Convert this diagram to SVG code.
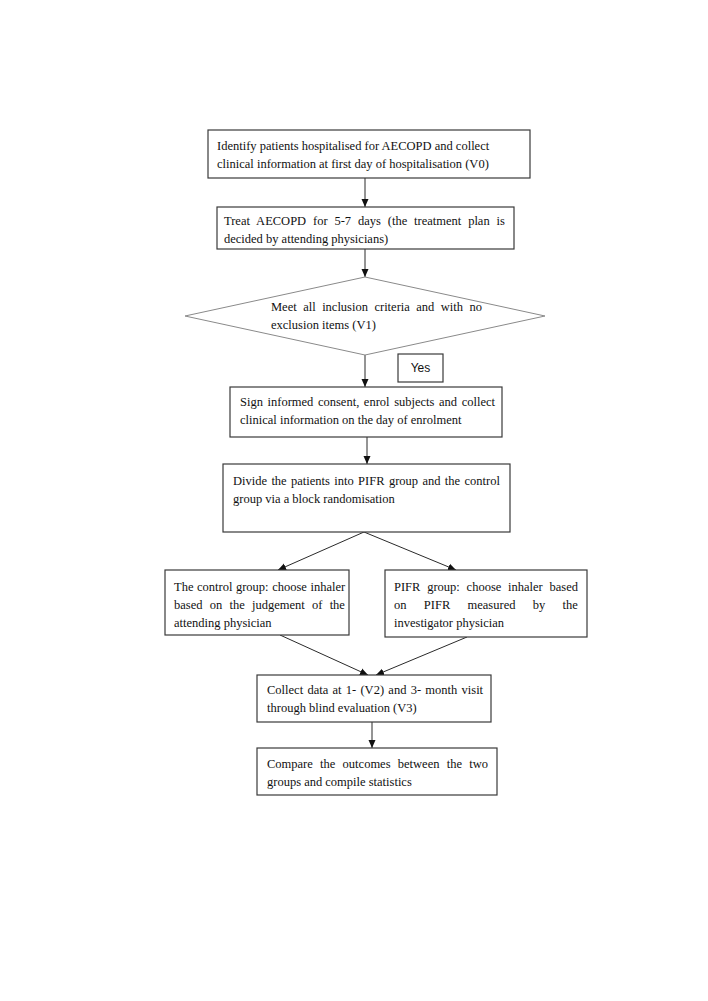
<svg xmlns="http://www.w3.org/2000/svg" width="708" height="1001" viewBox="0 0 708 1001">
<style>
.box{fill:#fff;stroke:#3a3a3a;stroke-width:1.2}
.dia{fill:#fff;stroke:#8a8a8a;stroke-width:1}
.t{font-family:"Liberation Serif","Times New Roman",serif;font-size:12.5px;fill:#111}
.s{font-family:"Liberation Sans",Arial,sans-serif;font-size:12px;fill:#111}
.c{stroke:#2a2a2a;stroke-width:1;fill:none;marker-end:url(#ah)}
</style>
<defs>
<marker id="ah" markerUnits="userSpaceOnUse" markerWidth="8" markerHeight="8" refX="8" refY="4" orient="auto">
<path d="M0,0.5 L8,4 L0,7.5 z" fill="#111"/>
</marker>
</defs>
<rect width="708" height="1001" fill="#fff"/>
<g id="connectors">
<line class="c" x1="365" y1="178" x2="365" y2="207"/>
<line class="c" x1="365" y1="249" x2="365" y2="277"/>
<line class="c" x1="365" y1="355" x2="365" y2="387"/>
<line class="c" x1="367" y1="437" x2="367" y2="464"/>
<line class="c" x1="364" y1="532" x2="278" y2="570"/>
<line class="c" x1="364" y1="532" x2="456" y2="570"/>
<line class="c" x1="280" y1="635" x2="368" y2="675"/>
<line class="c" x1="467" y1="637" x2="376" y2="675"/>
<line class="c" x1="372" y1="722" x2="372" y2="748"/>
</g>
<g id="n1">
<rect class="box" x="208" y="130" width="322" height="48"/>
<text class="t" x="217" y="150">Identify patients hospitalised for AECOPD and collect</text>
<text class="t" x="217" y="168">clinical information at first day of hospitalisation (V0)</text>
</g>
<g id="n2">
<rect class="box" x="217" y="207" width="297" height="42"/>
<text class="t" x="224" y="225" word-spacing="3.75">Treat AECOPD for 5-7 days (the treatment plan is</text>
<text class="t" x="224" y="243">decided by attending physicians)</text>
</g>
<g id="n3">
<polygon class="dia" points="365,277 545,316 365,355 185,316"/>
<text class="t" x="271" y="311" word-spacing="3.35">Meet all inclusion criteria and with no</text>
<text class="t" x="271" y="329">exclusion items (V1)</text>
</g>
<g id="yes">
<rect class="box" x="398" y="354" width="45" height="28"/>
<text class="s" x="420.5" y="372" text-anchor="middle">Yes</text>
</g>
<g id="n4">
<rect class="box" x="230" y="387" width="272" height="50"/>
<text class="t" x="240" y="406" word-spacing="1.48">Sign informed consent, enrol subjects and collect</text>
<text class="t" x="240" y="424">clinical information on the day of enrolment</text>
</g>
<g id="n5">
<rect class="box" x="223" y="464" width="287" height="68"/>
<text class="t" x="233" y="485" word-spacing="1.25">Divide the patients into PIFR group and the control</text>
<text class="t" x="233" y="503">group via a block randomisation</text>
</g>
<g id="n6">
<rect class="box" x="165" y="570" width="184" height="65"/>
<text class="t" x="174" y="591" word-spacing="0.43">The control group: choose inhaler</text>
<text class="t" x="174" y="609" word-spacing="4.12">based on the judgement of the</text>
<text class="t" x="174" y="627">attending physician</text>
</g>
<g id="n7">
<rect class="box" x="385" y="570" width="202" height="67"/>
<text class="t" x="394" y="591" word-spacing="3.65">PIFR group: choose inhaler based</text>
<text class="t" x="394" y="609" word-spacing="14.2">on PIFR measured by the</text>
<text class="t" x="394" y="627">investigator physician</text>
</g>
<g id="n8">
<rect class="box" x="257" y="675" width="234" height="47"/>
<text class="t" x="267" y="694" word-spacing="1.15">Collect data at 1- (V2) and 3- month visit</text>
<text class="t" x="267" y="712">through blind evaluation (V3)</text>
</g>
<g id="n9">
<rect class="box" x="257" y="748" width="240" height="47"/>
<text class="t" x="267" y="768" word-spacing="4.14">Compare the outcomes between the two</text>
<text class="t" x="267" y="786">groups and compile statistics</text>
</g>
</svg>
